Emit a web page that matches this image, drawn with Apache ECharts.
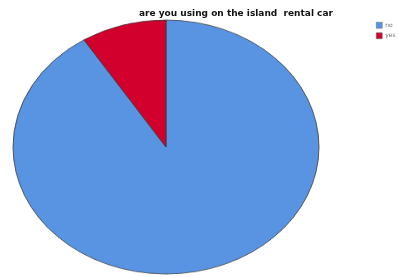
<!DOCTYPE html>
<html>
<head>
<meta charset="utf-8">
<script src="https://cdn.jsdelivr.net/npm/echarts@6/dist/echarts.min.js"></script>
<style>
  html, body { margin: 0; padding: 0; background: #fff; }
  #wrap { position: relative; width: 398px; height: 277px; overflow: hidden; }
  /* pie is drawn round, then squashed vertically to the ellipse of the original */
  #pie {
    position: absolute;
    left: 10.5px;
    top: -8px;
    width: 310px;
    height: 310px;
    transform: scaleY(0.83);
    transform-origin: 50% 50%;
  }
  #overlay { position: absolute; left: 0; top: 0; width: 398px; height: 277px; }
</style>
</head>
<body>
<div id="wrap">
  <div id="pie"></div>
  <div id="overlay"></div>
</div>
<script>
const categories = ['no', 'yes']
const values = [91, 9]
const colors = ['#5894e2', '#d2002c']
const titleText = 'are you using on the island  rental car'

const pieData = categories.map((name, i) => ({ name, value: values[i] }))

const pie = echarts.init(document.getElementById('pie'), null, { renderer: 'canvas' })
pie.setOption({
  animation: false,
  color: colors,
  series: [
    {
      type: 'pie',
      center: [155, 155],
      radius: [0, 153],
      startAngle: 90,
      clockwise: true,
      label: { show: false },
      labelLine: { show: false },
      itemStyle: { borderColor: '#3a3a3a', borderWidth: 0.8 },
      emphasis: { disabled: true },
      data: pieData,
    },
  ],
})

// title and legend live in an unscaled chart on top, so the text keeps its shape
const overlay = echarts.init(document.getElementById('overlay'), null, { renderer: 'canvas' })
overlay.setOption({
  animation: false,
  color: colors,
  title: {
    text: titleText,
    left: 139,
    top: 9,
    padding: 0,
    textStyle: {
      fontFamily: 'DejaVu Sans, Verdana, sans-serif',
      fontSize: 9,
      fontWeight: 'bold',
      color: '#111',
    },
  },
  legend: {
    orient: 'vertical',
    left: 376,
    top: 22,
    padding: 0,
    itemWidth: 6,
    itemHeight: 6,
    itemGap: 4,
    icon: 'rect',
    selectedMode: false,
    itemStyle: { borderColor: '#666', borderWidth: 0.5 },
    textStyle: {
      fontFamily: 'DejaVu Sans, Verdana, sans-serif',
      fontSize: 6,
      color: '#777',
      padding: [0, 0, 0, -2],
    },
    data: categories,
  },
  series: [
    {
      type: 'pie',
      radius: [0, 0],
      silent: true,
      label: { show: false },
      labelLine: { show: false },
      data: pieData,
    },
  ],
})
</script>
</body>
</html>
